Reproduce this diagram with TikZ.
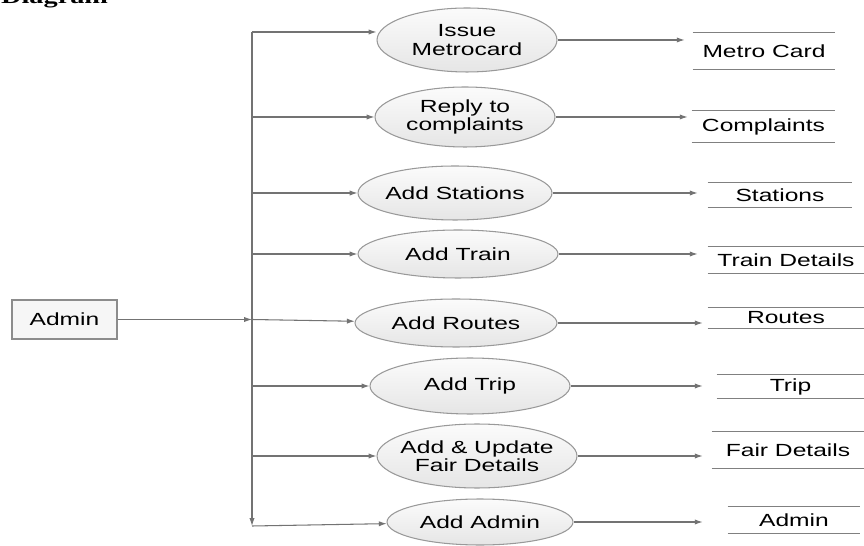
\documentclass[tikz,border=0pt]{standalone}
\usepackage{fontspec}
\setmainfont{Liberation Sans}[FakeStretch=1.4]
\newfontfamily\headfont{Liberation Serif}[FakeStretch=1.4]
\usetikzlibrary{shapes.geometric,arrows.meta}
\tikzset{
    flow/.style={draw=black!55, line width=0.6pt, -{Latex[length=4.5pt,width=3pt]}},
    wire/.style={draw=black!50, line width=0.6pt},
    proc/.style={ellipse, draw=black!40, line width=0.6pt, top color=gray!3, bottom color=gray!20,
        inner xsep=-8pt, inner ysep=0pt, align=center, font=\fontsize{10}{10.5}\selectfont},
    store/.style={inner sep=0pt, font=\fontsize{10}{10.5}\selectfont},
    ent/.style={rectangle, draw=black!45, line width=0.6pt, fill=gray!7, font=\fontsize{10}{10.5}\selectfont}
}
\begin{document}
\begin{tikzpicture}[x=0.02cm, y=-0.02cm]
    \useasboundingbox (0,0) rectangle (864,546);
    \node[anchor=base west, font=\headfont\bfseries\fontsize{11.5}{12}\selectfont] (title) at (-5,4) {Diagram};

    \node[ent, minimum width=2.1cm, minimum height=0.78cm] (adm) at (64.5,319.5) {Admin};

    \begin{scope}[every node/.style={proc}]
        \node[minimum width=3.6cm, minimum height=1.28cm] (p1) at (467,40) {Issue\\Metrocard};
        \node[minimum width=3.6cm, minimum height=1.2cm] (p2) at (465,117) {Reply to\\complaints};
        \node[minimum width=3.88cm, minimum height=1.08cm] (p3) at (455,193) {Add Stations};
        \node[minimum width=4cm, minimum height=0.96cm] (p4) at (458,254) {Add Train};
        \node[minimum width=4.04cm, minimum height=0.96cm] (p5) at (456,323) {Add Routes};
        \node[minimum width=4cm, minimum height=1.12cm] (p6) at (470,386) {Add Trip};
        \node[minimum width=4cm, minimum height=1.28cm] (p7) at (477,456) {Add \& Update\\Fair Details};
        \node[minimum width=3.72cm, minimum height=0.92cm] (p8) at (480,522) {Add Admin};
    \end{scope}

    \begin{scope}[every node/.style={store}]
        \node[minimum width=2.84cm, minimum height=0.72cm] (s1) at (764,51) {Metro Card};
        \node[minimum width=2.86cm, minimum height=0.62cm] (s2) at (763.5,126.5) {Complaints};
        \node[minimum width=2.88cm, minimum height=0.48cm] (s3) at (780,195) {Stations};
        \node[minimum width=3.12cm, minimum height=0.52cm] (s4) at (786,260) {Train Details};
        \node[minimum width=3.12cm, minimum height=0.4cm] (s5) at (786,318) {Routes};
        \node[minimum width=2.94cm, minimum height=0.46cm] (s6) at (790.5,386.5) {Trip};
        \node[minimum width=3.04cm, minimum height=0.72cm] (s7) at (788,450) {Fair Details};
        \node[minimum width=2.64cm, minimum height=0.52cm] (s8) at (794,520) {Admin};
    \end{scope}
    \foreach \i in {1,...,8}
        \draw[wire] (s\i.north west) -- (s\i.north east) (s\i.south west) -- (s\i.south east);

    % trunk from the admin entity
    \coordinate (top) at (252,32);
    \coordinate (bot) at (252,526);
    \draw[flow] (top) -- (bot);
    \draw[flow] (adm) -- (adm -| top);
    \draw[flow] (adm -| top) -- (p5);
    \draw[flow] (top) -- (top -| p1.west);
    \foreach \i in {2,3,4,6,7}
        \draw[flow] (top |- p\i) -- (p\i);
    \draw[flow] (bot) -- (p8);

    % processes to stores
    \foreach \i/\g in {1/0.16,2/0.08,3/0.2,4/0.2,5/0.1,6/0.28,7/0.18,8/0.5}
        \draw[flow, shorten >=\g cm] (p\i) -- (p\i -| s\i.west);
\end{tikzpicture}
\end{document}
